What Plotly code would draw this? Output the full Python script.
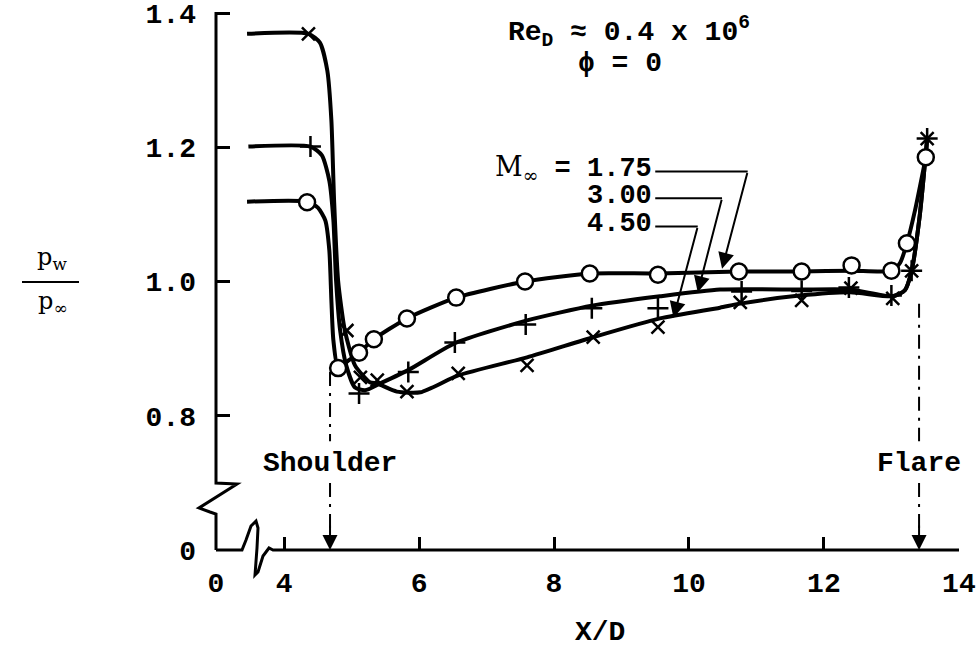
import plotly.graph_objects as go

# ---------------- data ----------------
# measured points
m175_x = [4.34, 4.80, 5.11, 5.33, 5.82, 6.55, 7.57, 8.53, 9.54, 10.74, 11.67, 12.41, 13.00, 13.23, 13.51]
m175_y = [1.118, 0.871, 0.894, 0.914, 0.945, 0.976, 1.000, 1.012, 1.010, 1.015, 1.015, 1.024, 1.016, 1.057, 1.185]

m300_x = [4.39, 5.11, 5.84, 6.53, 7.58, 8.56, 9.54, 10.78, 11.67, 12.37, 13.00, 13.30, 13.53]
m300_y = [1.201, 0.833, 0.865, 0.909, 0.936, 0.960, 0.960, 0.985, 0.986, 0.991, 0.979, 1.016, 1.213]

m450_x = [4.36, 4.93, 5.13, 5.38, 5.82, 6.58, 7.60, 8.58, 9.54, 10.76, 11.67, 12.40, 13.02, 13.30, 13.53]
m450_y = [1.369, 0.927, 0.857, 0.853, 0.836, 0.863, 0.875, 0.917, 0.932, 0.969, 0.972, 0.990, 0.975, 1.016, 1.213]

# faired curves
c175_x = [3.45, 4.34, 4.50, 4.61, 4.67, 4.70, 4.73, 4.80, 4.95, 5.11, 5.33, 5.82, 6.55, 7.57, 8.53, 9.54, 10.74, 11.67, 12.41, 13.01, 13.13, 13.23, 13.35, 13.51]
c175_y = [1.119, 1.119, 1.110, 1.091, 1.046, 0.972, 0.912, 0.871, 0.882, 0.894, 0.914, 0.945, 0.976, 1.000, 1.012, 1.012, 1.015, 1.015, 1.016, 1.016, 1.028, 1.057, 1.106, 1.185]

c300_x = [3.47, 4.39, 4.56, 4.67, 4.73, 4.77, 4.83, 4.92, 5.05, 5.20, 5.42, 5.84, 6.53, 7.60, 8.56, 9.57, 10.46, 11.64, 12.39, 13.02, 13.20, 13.30, 13.42, 13.53]
c300_y = [1.201, 1.201, 1.188, 1.150, 1.091, 1.001, 0.927, 0.875, 0.842, 0.838, 0.848, 0.868, 0.908, 0.942, 0.964, 0.978, 0.988, 0.988, 0.988, 0.978, 0.987, 1.016, 1.098, 1.213]

c450_x = [3.45, 4.36, 4.53, 4.64, 4.70, 4.74, 4.80, 4.90, 5.05, 5.27, 5.38, 5.67, 6.02, 6.58, 7.60, 8.58, 9.57, 10.46, 10.76, 11.64, 12.39, 13.02, 13.20, 13.30, 13.42, 13.53]
c450_y = [1.369, 1.369, 1.356, 1.314, 1.240, 1.121, 1.001, 0.927, 0.875, 0.850, 0.848, 0.836, 0.835, 0.860, 0.887, 0.917, 0.945, 0.961, 0.967, 0.979, 0.984, 0.978, 0.987, 1.016, 1.098, 1.213]

mach_labels = ["1.75", "3.00", "4.50"]

x_tickvals = [2.99, 4, 6, 8, 10, 12, 14]
x_ticktext = ["0", "4", "6", "8", "10", "12", "14"]
y_tickvals = [0.6, 0.8, 1.0, 1.2, 1.4]
y_ticktext = ["0", "0.8", "1.0", "1.2", "1.4"]

shoulder_x = 4.68
flare_x = 13.41

# ---------------- layout constants ----------------
W, H = 978, 649
ML, MT = 216, 12
PW, PH = 743, 538
MR = W - ML - PW
MB = H - MT - PH
MONO = "Liberation Mono"
SERIF = "DejaVu Serif"


def pp(px, py):
    """pixel -> paper coords (for decorations only)"""
    return (px - ML) / PW, (MT + PH - py) / PH


fig = go.Figure()

line_style = dict(color="black", width=4, shape="spline", smoothing=0.6)
for cx, cy in [(c175_x, c175_y), (c300_x, c300_y), (c450_x, c450_y)]:
    fig.add_trace(go.Scatter(x=cx, y=cy, mode="lines", line=line_style,
                             hoverinfo="skip", showlegend=False))

fig.add_trace(go.Scatter(x=m450_x, y=m450_y, mode="markers", name="4.50",
                         marker=dict(symbol="x-thin", size=13, color="black",
                                     line=dict(width=2.5, color="black"))))
fig.add_trace(go.Scatter(x=m300_x, y=m300_y, mode="markers", name="3.00",
                         marker=dict(symbol="cross-thin", size=15, color="black",
                                     line=dict(width=2.5, color="black"))))
fig.add_trace(go.Scatter(x=m175_x, y=m175_y, mode="markers", name="1.75",
                         marker=dict(symbol="circle", size=16, color="white",
                                     line=dict(width=2.5, color="black"))))

shapes = []


def path_from(pts):
    s = ""
    for i, (a, b) in enumerate(pts):
        x, y = pp(a, b)
        s += ("M" if i == 0 else " L") + f" {x:.5f},{y:.5f}"
    return s


# axis lines with breaks (decorative)
left_axis = [(216, 12), (216, 483), (237, 484), (199, 508), (210, 512), (216, 514), (216, 550)]
bottom_axis = [(216, 550), (242, 550), (246, 540), (251, 526), (256, 521), (258, 528),
               (257, 548), (255, 575), (258, 572), (263, 556), (269, 548), (273, 550), (959, 550)]
for pts in (left_axis, bottom_axis):
    shapes.append(dict(type="path", xref="paper", yref="paper", path=path_from(pts),
                       line=dict(color="black", width=3)))

# shoulder / flare dash-dot markers
for xv, ytop in [(shoulder_x, 0.865), (flare_x, 0.967)]:
    shapes.append(dict(type="line", xref="x", yref="y", x0=xv, x1=xv, y0=ytop, y1=0.762,
                       line=dict(color="black", width=2, dash="14px,7px,3px,7px")))
    shapes.append(dict(type="line", xref="x", yref="y", x0=xv, x1=xv, y0=0.70, y1=0.63,
                       line=dict(color="black", width=2, dash="14px,7px,3px,7px")))

# Mach leader lines (horizontal parts)
leader = [(9.50, 10.87, 1.164, 10.49, 1.019),
          (9.50, 10.49, 1.124, 10.13, 0.984),
          (9.50, 10.13, 1.082, 9.77, 0.946)]
for x0, x1, yl, xt, yt in leader:
    shapes.append(dict(type="line", xref="x", yref="y", x0=x0, x1=x1, y0=yl, y1=yl,
                       line=dict(color="black", width=2)))

annotations = []
for x0, x1, yl, xt, yt in leader:
    annotations.append(dict(x=xt, y=yt, ax=x1, ay=yl, xref="x", yref="y", axref="x", ayref="y",
                            text="", showarrow=True, arrowhead=2, arrowsize=1.6,
                            arrowwidth=2, arrowcolor="black", standoff=0))

for xv in (shoulder_x, flare_x):
    annotations.append(dict(x=xv, y=0.6, xref="x", yref="y", ax=0, ay=-26, text="",
                            showarrow=True, arrowhead=2, arrowsize=1.5, arrowwidth=2,
                            arrowcolor="black", standoff=0))

tf = dict(family=MONO, size=28, color="black", weight="bold")
annotations.append(dict(x=shoulder_x, y=0.7295, xref="x", yref="y", text="Shoulder",
                        showarrow=False, font=tf, xanchor="center", yanchor="middle"))
annotations.append(dict(x=flare_x, y=0.7295, xref="x", yref="y", text="Flare",
                        showarrow=False, font=tf, xanchor="center", yanchor="middle"))

# Mach labels
label_y = [1.169, 1.127, 1.085]
label_txt = ['<span style="font-family:DejaVu Serif;font-weight:normal">M<sub>∞</sub></span> = ' + mach_labels[0],
             mach_labels[1], mach_labels[2]]
for t, yv in zip(label_txt, label_y):
    annotations.append(dict(x=9.48, y=yv, xref="x", yref="y", text=t, showarrow=False,
                            font=dict(family=MONO, size=27, color="black", weight="bold"),
                            xanchor="right", yanchor="middle"))

# Reynolds / phi
x_, y_ = pp(506, 32)
annotations.append(dict(x=x_, y=y_, xref="paper", yref="paper",
                        text="Re<sub>D</sub> ≈ 0.4 x 10<sup>6</sup>", showarrow=False,
                        font=tf, xanchor="left", yanchor="middle"))
x_, y_ = pp(620, 63)
annotations.append(dict(x=x_, y=y_, xref="paper", yref="paper", text="ϕ = 0",
                        showarrow=False, font=tf, xanchor="center", yanchor="middle"))

# y title as fraction
sf = dict(family=SERIF, size=24, color="black")
x_, y_ = pp(52, 258)
annotations.append(dict(x=x_, y=y_, xref="paper", yref="paper", text="p<sub>w</sub>",
                        showarrow=False, font=sf, xanchor="center", yanchor="middle"))
x_, y_ = pp(52, 302)
annotations.append(dict(x=x_, y=y_, xref="paper", yref="paper", text="p<sub>∞</sub>",
                        showarrow=False, font=sf, xanchor="center", yanchor="middle"))
xa, ya = pp(22, 282)
xb, yb = pp(79, 282)
shapes.append(dict(type="line", xref="paper", yref="paper", x0=xa, x1=xb, y0=ya, y1=yb,
                   line=dict(color="black", width=2)))

# x title
x_, y_ = pp(600, 632)
annotations.append(dict(x=x_, y=y_, xref="paper", yref="paper", text="X/D",
                        showarrow=False, font=tf, xanchor="center", yanchor="middle"))

fig.update_layout(
    width=W, height=H,
    margin=dict(l=ML, r=MR, t=MT, b=MB, autoexpand=False),
    paper_bgcolor="white", plot_bgcolor="white",
    showlegend=False,
    shapes=shapes, annotations=annotations,
    xaxis=dict(range=[2.99, 14.002], tickvals=x_tickvals, ticktext=x_ticktext,
               ticks="inside", ticklen=13, tickwidth=2.5, tickcolor="black",
               showline=False, showgrid=False, zeroline=False, automargin=False,
               tickfont=tf, ticklabelstandoff=13, ticklabeloverflow="allow"),
    yaxis=dict(range=[0.6, 1.4015], tickvals=y_tickvals, ticktext=y_ticktext,
               ticks="inside", ticklen=14, tickwidth=2.5, tickcolor="black",
               showline=False, showgrid=False, zeroline=False, automargin=False,
               tickfont=tf, ticklabelstandoff=19, ticklabeloverflow="allow"),
)

fig.write_html("out.html", config={"displayModeBar": False},
               post_script="document.body.style.margin='0';document.body.style.overflow='hidden';")
